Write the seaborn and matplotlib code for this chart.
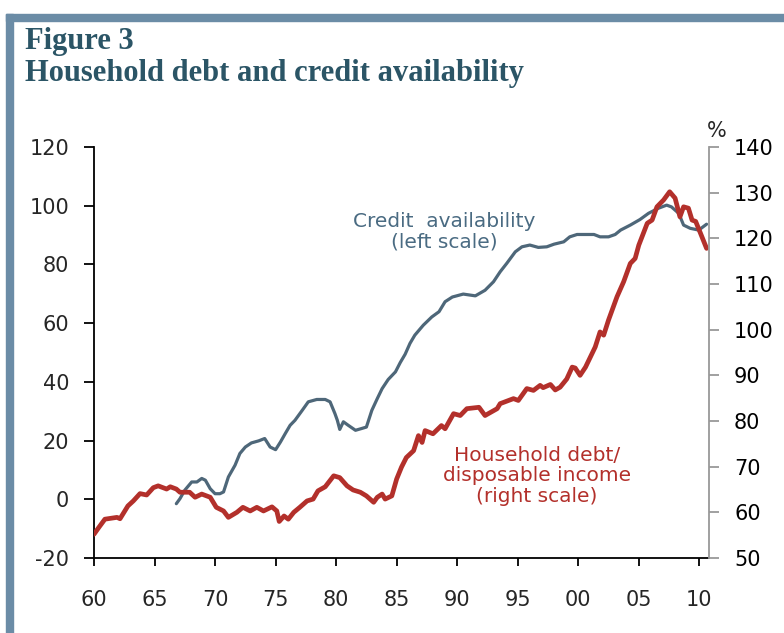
import matplotlib
matplotlib.use("Agg")
import matplotlib.pyplot as plt
from matplotlib.patches import Rectangle
import seaborn as sns

# ── Data ────────────────────────────────────────────────────────────
debt_years = [1960.0, 1960.4, 1960.9, 1961.9, 1962.15, 1962.8, 1963.25, 1963.8, 1964.35, 1964.9,
              1965.3, 1966.0, 1966.3, 1966.8, 1967.1, 1967.9, 1968.35, 1968.9, 1969.6, 1970.1,
              1970.7, 1971.1, 1971.8, 1972.3, 1972.9, 1973.45, 1974.0, 1974.7, 1975.1, 1975.3,
              1975.7, 1976.05, 1976.5, 1977.0, 1977.6, 1978.1, 1978.5, 1979.1, 1979.8, 1980.3,
              1980.9, 1981.4, 1982.0, 1982.5, 1983.1, 1983.4, 1983.8, 1984.05, 1984.6, 1985.0,
              1985.4, 1985.8, 1986.4, 1986.8, 1987.1, 1987.35, 1988.0, 1988.7, 1989.0, 1989.7,
              1990.25, 1990.8, 1991.8, 1992.3, 1993.3, 1993.55, 1994.65, 1995.05, 1995.75, 1996.3,
              1996.85, 1997.1, 1997.7, 1998.1, 1998.5, 1999.05, 1999.5, 1999.75, 2000.15, 2000.6,
              2001.0, 2001.4, 2001.8, 2002.1, 2002.5, 2003.2, 2003.75, 2004.3, 2004.7, 2005.0,
              2005.7, 2006.1, 2006.5, 2007.05, 2007.55, 2008.0, 2008.4, 2008.7, 2009.1, 2009.4,
              2009.7, 2010.1, 2010.6]
debt_ratio = [55.2, 56.7, 58.5, 58.9, 58.6, 61.4, 62.5, 64.1, 63.8, 65.4,
              65.8, 65.1, 65.6, 65.1, 64.4, 64.4, 63.3, 64.0, 63.3, 61.1,
              60.3, 58.9, 60.0, 61.1, 60.3, 61.1, 60.3, 61.2, 60.3, 58.0,
              59.2, 58.5, 60.0, 61.1, 62.5, 62.9, 64.7, 65.6, 68.0, 67.6,
              65.8, 64.9, 64.4, 63.6, 62.2, 63.3, 64.0, 62.9, 63.6, 67.3,
              69.9, 72.0, 73.5, 76.8, 75.3, 77.9, 77.2, 79.0, 78.3, 81.6,
              81.2, 82.7, 83.0, 81.2, 82.7, 83.8, 84.9, 84.5, 87.1, 86.7,
              87.8, 87.3, 88.0, 86.8, 87.4, 89.2, 91.8, 91.6, 90.0, 91.8,
              94.0, 96.2, 99.5, 98.8, 102.1, 107.2, 110.5, 114.5, 115.6, 118.5,
              123.3, 124.0, 126.9, 128.4, 130.2, 128.8, 124.7, 126.9, 126.6, 124.0,
              123.7, 121.1, 117.8]

credit_years = [1966.8, 1967.1, 1967.5, 1968.07, 1968.5, 1968.9, 1969.2, 1969.6, 1970.0, 1970.4,
                1970.7, 1971.1, 1971.65, 1972.05, 1972.5, 1973.0, 1973.6, 1974.1, 1974.55, 1975.0,
                1975.4, 1975.8, 1976.2, 1976.6, 1977.2, 1977.7, 1978.4, 1979.1, 1979.5, 1979.9,
                1980.1, 1980.3, 1980.6, 1981.0, 1981.6, 1982.1, 1982.5, 1982.95, 1983.4, 1983.8,
                1984.3, 1984.9, 1985.3, 1985.7, 1986.1, 1986.5, 1987.2, 1987.9, 1988.5, 1989.0,
                1989.6, 1990.5, 1991.5, 1992.3, 1993.0, 1993.55, 1994.1, 1994.8, 1995.35, 1996.0,
                1996.7, 1997.4, 1998.0, 1998.8, 1999.3, 1999.9, 2001.3, 2001.8, 2002.5, 2003.05,
                2003.5, 2004.3, 2005.1, 2005.8, 2006.6, 2007.3, 2007.7, 2008.3, 2008.7, 2009.25,
                2009.95, 2010.6]
credit_index = [-1.5, 0.2, 3.1, 5.9, 5.9, 7.1, 6.5, 3.6, 1.9, 1.9,
                2.5, 7.6, 11.6, 15.6, 17.8, 19.2, 19.9, 20.7, 17.8, 16.9,
                19.5, 22.4, 25.2, 26.9, 30.3, 33.2, 34.0, 34.0, 33.2, 29.2,
                26.9, 23.8, 26.4, 25.2, 23.5, 24.1, 24.6, 30.3, 34.3, 37.7,
                40.8, 43.4, 46.6, 49.4, 53.1, 55.9, 59.3, 62.1, 63.9, 67.3,
                68.9, 69.9, 69.3, 71.2, 74.1, 77.5, 80.4, 84.3, 86.0, 86.6,
                85.8, 86.0, 86.9, 87.7, 89.4, 90.2, 90.2, 89.4, 89.4, 90.2,
                91.7, 93.4, 95.3, 97.4, 99.1, 100.2, 99.6, 97.4, 93.4, 92.3,
                91.7, 93.7]

x_ticks = [1960, 1965, 1970, 1975, 1980, 1985, 1990, 1995, 2000, 2005, 2010]
x_labels = ["60", "65", "70", "75", "80", "85", "90", "95", "00", "05", "10"]
left_ticks = [-20, 0, 20, 40, 60, 80, 100, 120]
right_ticks = [50, 60, 70, 80, 90, 100, 110, 120, 130, 140]

BLUE = "#4E6779"
BLUE_TXT = "#4A6B82"
RED = "#B3302B"
FRAME = "#6B8CA6"
TITLE = "#2B5566"

sns.set_style("ticks")
plt.rcParams["font.family"] = ["DejaVu Sans"]
plt.rcParams["axes.unicode_minus"] = False

fig = plt.figure(figsize=(7.84, 6.33), dpi=100)

# frame bars (left + top)
W, H = 784, 633
fig.patches.append(Rectangle((6 / W, 0), 7 / W, 1 - 14 / H, transform=fig.transFigure,
                             color=FRAME, zorder=0))
fig.patches.append(Rectangle((6 / W, 1 - 21 / H), 1, 7 / H, transform=fig.transFigure,
                             color=FRAME, zorder=0))

fig.text(25 / W, 1 - 41 / H, "Figure 3", family="Liberation Serif", weight="bold",
         fontsize=22, color=TITLE, va="center", ha="left")
fig.text(25 / W, 1 - 74 / H, "Household debt and credit availability", family="Liberation Serif",
         weight="bold", fontsize=22, color=TITLE, va="center", ha="left")

ax = fig.add_axes([94 / W, 1 - 558 / H, (709 - 94) / W, (558 - 147) / H])
ax2 = ax.twinx()

sns.lineplot(x=credit_years, y=credit_index, ax=ax, color=BLUE, linewidth=2.3,
             sort=False, estimator=None)
sns.lineplot(x=debt_years, y=debt_ratio, ax=ax2, color=RED, linewidth=3.4,
             sort=False, estimator=None)

ax.set_xlim(1960, 2010.8)
ax.set_ylim(-20, 120)
ax2.set_ylim(50, 140)
ax.set_xticks(x_ticks)
ax.set_xticklabels(x_labels)
ax.set_yticks(left_ticks)
ax2.set_yticks(right_ticks)
ax.set_xlabel("")
ax.set_ylabel("")
ax2.set_ylabel("")

for a in (ax, ax2):
    a.spines["top"].set_visible(False)
ax.spines["right"].set_visible(False)
ax2.spines["left"].set_visible(False)
ax2.spines["bottom"].set_visible(False)
ax.spines["left"].set_color("black")
ax.spines["bottom"].set_color("black")
ax.spines["left"].set_linewidth(1.3)
ax.spines["bottom"].set_linewidth(1.3)
ax2.spines["right"].set_color("#999999")
ax2.spines["right"].set_linewidth(1.3)

ax.tick_params(axis="x", length=6, width=1.3, pad=17, labelsize=15, color="black")
ax.tick_params(axis="y", length=7, width=1.3, pad=11, labelsize=15, color="black")
ax2.tick_params(axis="y", length=7, width=1.3, pad=11, labelsize=15, color="#999999",
                labelcolor="black")

ax2.text(0.997, 1.04, "%", transform=ax2.transAxes, fontsize=15, ha="left", va="center")

ax.text(1988.9, 91, "Credit  availability\n(left scale)", color=BLUE_TXT,
        fontsize=14.5, ha="center", va="center", linespacing=1.1)
ax2.text(1996.6, 68.0, "Household debt/\ndisposable income\n(right scale)", color=RED,
         fontsize=14.5, ha="center", va="center", linespacing=1.1)

fig.savefig("out.png", dpi=100)
